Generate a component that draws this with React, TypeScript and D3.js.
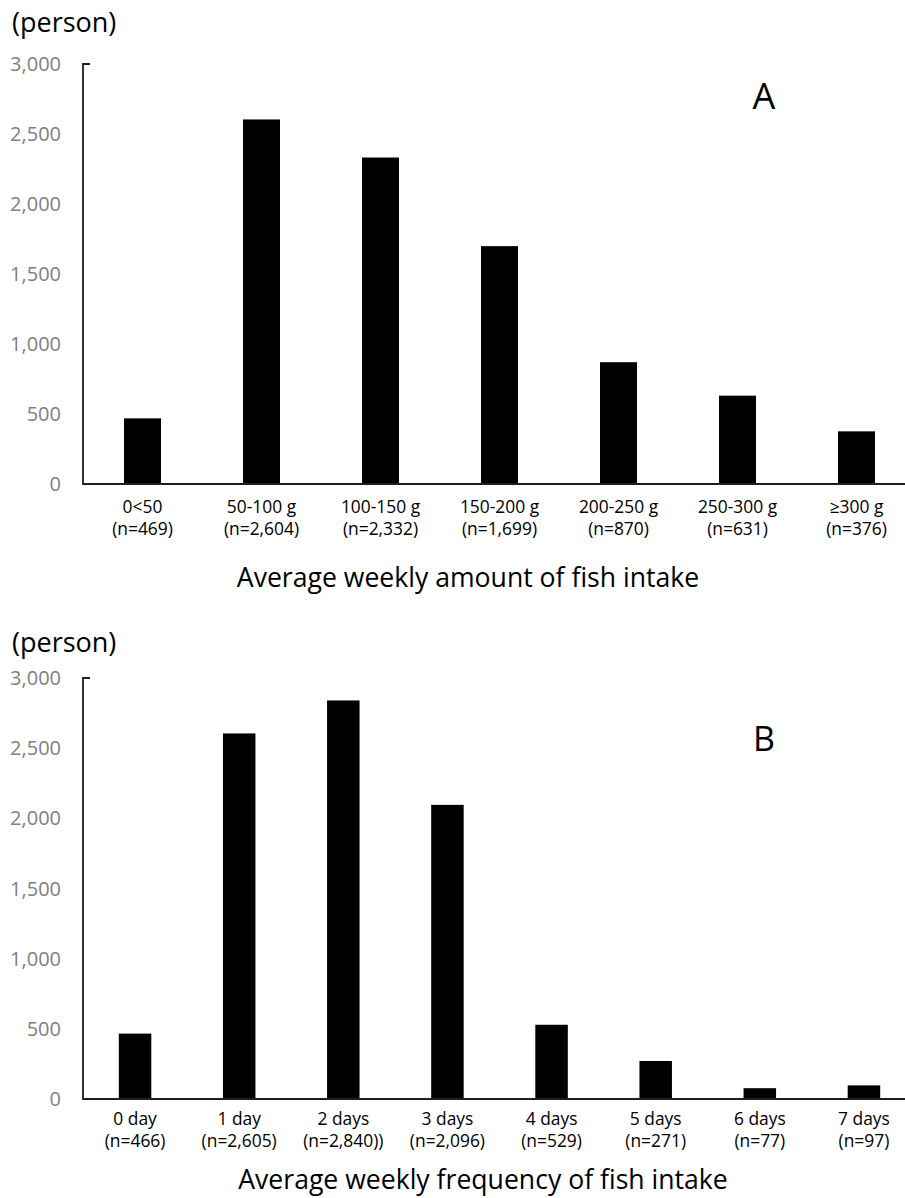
import React from "react";
import * as d3 from "d3";

// Panel A: weekly amount of fish intake
const amountCategories = ["0<50", "50-100 g", "100-150 g", "150-200 g", "200-250 g", "250-300 g", "≥300 g"];
const amountCounts = [469, 2604, 2332, 1699, 870, 631, 376];
const amountNLabels = ["(n=469)", "(n=2,604)", "(n=2,332)", "(n=1,699)", "(n=870)", "(n=631)", "(n=376)"];

// Panel B: weekly frequency of fish intake
const freqCategories = ["0 day", "1 day", "2 days", "3 days", "4 days", "5 days", "6 days", "7 days"];
const freqCounts = [466, 2605, 2840, 2096, 529, 271, 77, 97];
const freqNLabels = ["(n=466)", "(n=2,605)", "(n=2,840))", "(n=2,096)", "(n=529)", "(n=271)", "(n=77)", "(n=97)"];

const yTicks = [0, 500, 1000, 1500, 2000, 2500, 3000];

const FONT = "'Open Sans', 'Noto Sans', sans-serif";
const fmt = d3.format(",");

type PanelProps = {
  top: number; // y of the 3,000 level
  bottom: number; // y of the zero baseline
  categories: string[];
  counts: number[];
  nLabels: string[];
  barWidth: number;
  letter: string;
  letterX: number;
  letterY: number;
  letterSize: number;
  title: string;
  titleX: number;
  titleY: number;
  label1Y: number;
  label2Y: number;
  unitY: number;
};

function Panel(p: PanelProps) {
  const left = 83;
  const x = d3.scaleBand<string>().domain(p.categories).range([left, 916]);
  const y = d3.scaleLinear().domain([0, 3000]).range([p.bottom, p.top]);
  const axisColor = "#1f1f1f";
  return (
    <g>
      <text x={12} y={p.unitY} fontFamily={FONT} fontSize={27} fill="#000">(person)</text>
      {yTicks.map((t) => (
        <text
          key={t}
          x={61}
          y={y(t)}
          dy="0.35em"
          textAnchor="end"
          fontFamily={FONT}
          fontSize={20}
          fill="#808080"
        >
          {fmt(t)}
        </text>
      ))}
      {p.categories.map((c, i) => {
        const cx = (x(c) as number) + x.bandwidth() / 2;
        return (
          <g key={c}>
            <rect
              x={cx - p.barWidth / 2}
              y={y(p.counts[i])}
              width={p.barWidth}
              height={y(0) - y(p.counts[i])}
              fill="#000"
            />
            <text x={cx} y={p.label1Y} textAnchor="middle" fontFamily={FONT} fontSize={17.4} fill="#000">
              {c}
            </text>
            <text x={cx} y={p.label2Y} textAnchor="middle" fontFamily={FONT} fontSize={17.4} fill="#000">
              {p.nLabels[i]}
            </text>
          </g>
        );
      })}
      <path
        d={`M${left + 7},${y(3000)}H${left}V${y(0)}H916`}
        fill="none"
        stroke={axisColor}
        strokeWidth={1.8}
      />
      <text x={p.letterX} y={p.letterY} textAnchor="middle" fontFamily={FONT} fontSize={p.letterSize} fill="#000">
        {p.letter}
      </text>
      <text x={p.titleX} y={p.titleY} textAnchor="middle" fontFamily={FONT} fontSize={26.6} fill="#000">
        {p.title}
      </text>
    </g>
  );
}

export default function App() {
  return (
    <svg width={905} height={1198} style={{ position: "absolute", left: 0, top: 0, background: "#fff" }}>
      <rect width={905} height={1198} fill="#fff" />
      <Panel
        top={64}
        bottom={484}
        categories={amountCategories}
        counts={amountCounts}
        nLabels={amountNLabels}
        barWidth={37}
        letter="A"
        letterX={764}
        letterY={109}
        letterSize={36}
        title="Average weekly amount of fish intake"
        titleX={468}
        titleY={587}
        label1Y={513}
        label2Y={535}
        unitY={32}
      />
      <Panel
        top={678}
        bottom={1099}
        categories={freqCategories}
        counts={freqCounts}
        nLabels={freqNLabels}
        barWidth={32.5}
        letter="B"
        letterX={764}
        letterY={751}
        letterSize={34}
        title="Average weekly frequency of fish intake"
        titleX={483}
        titleY={1189}
        label1Y={1125}
        label2Y={1147}
        unitY={652}
      />
    </svg>
  );
}
